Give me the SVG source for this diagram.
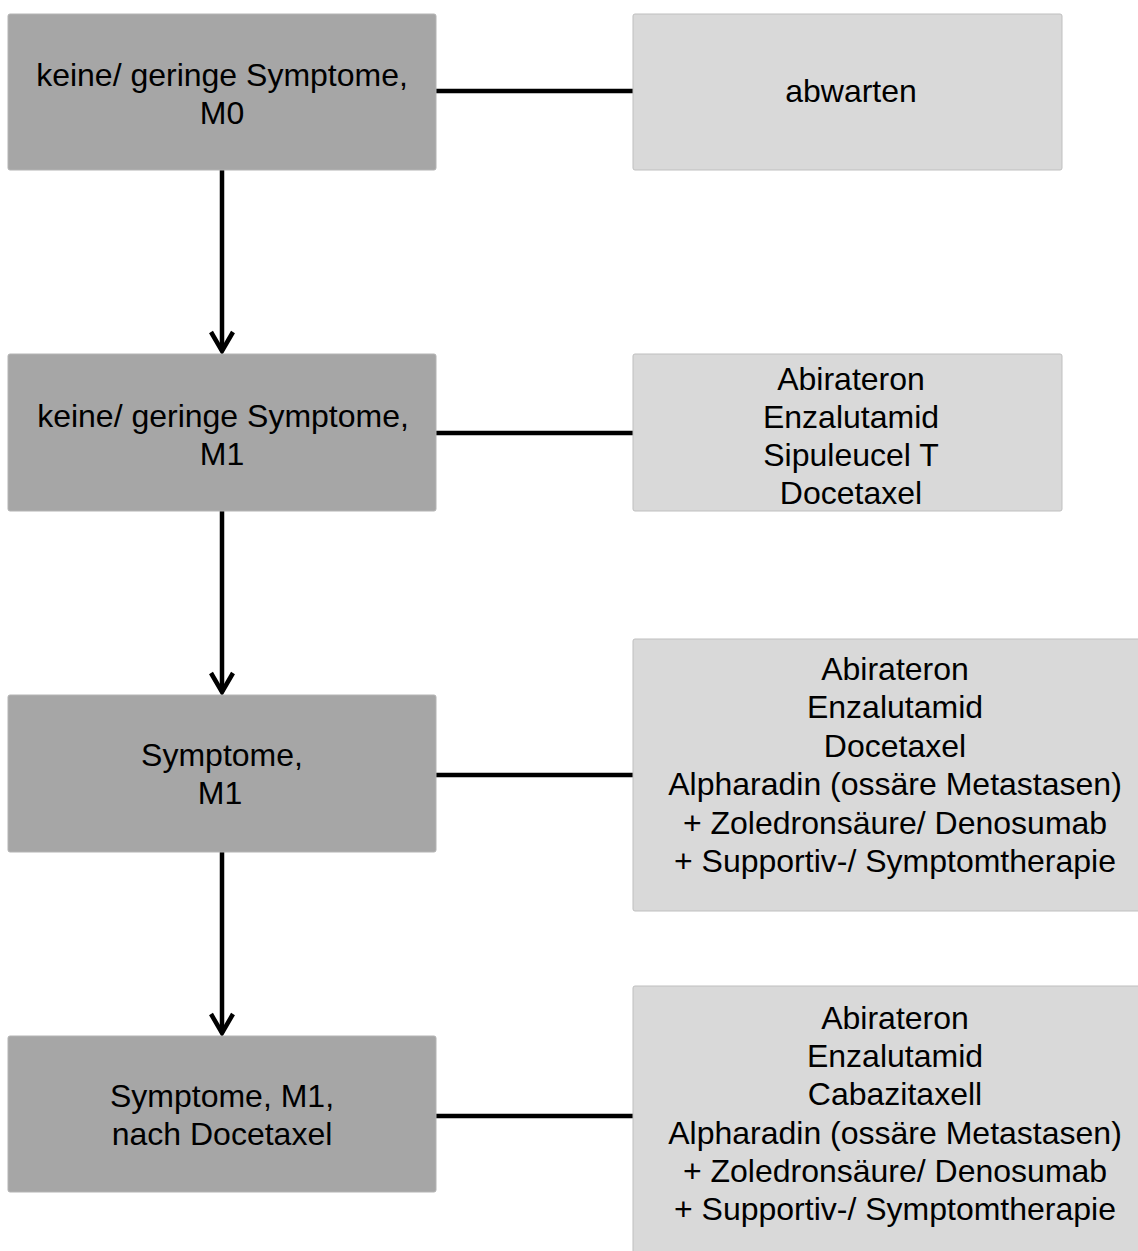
<svg xmlns="http://www.w3.org/2000/svg" width="1138" height="1251" viewBox="0 0 1138 1251">
<defs>
<style>
.l{fill:#a6a6a6;stroke:#b4b4b4;stroke-width:1}
.r{fill:#d9d9d9;stroke:#bfbfbf;stroke-width:1}
text{font-family:"Liberation Sans",Arial,sans-serif;font-size:32px;fill:#000;text-anchor:middle}
.c{stroke:#000;stroke-width:4.5;fill:none}
</style>
<marker id="arr" markerUnits="userSpaceOnUse" viewBox="0 0 30 30" refX="26" refY="15" markerWidth="30" markerHeight="30" orient="auto">
<path d="M7 4 L26 15 L7 26" fill="none" stroke="#000" stroke-width="4.5" stroke-linejoin="miter"/>
</marker>
</defs>
<rect width="1138" height="1251" fill="#fff"/>
<g id="connectors">
<line class="c" x1="436" y1="91" x2="633" y2="91"/>
<line class="c" x1="436" y1="433" x2="633" y2="433"/>
<line class="c" x1="436" y1="775" x2="633" y2="775"/>
<line class="c" x1="436" y1="1116" x2="633" y2="1116"/>
<path class="c" d="M222 170 V351" marker-end="url(#arr)"/>
<path class="c" d="M222 511 V692" marker-end="url(#arr)"/>
<path class="c" d="M222 852 V1033" marker-end="url(#arr)"/>
</g>
<g id="n1"><rect class="l" x="8" y="14" width="428" height="156" rx="2"/><text x="222" y="86">keine/ geringe Symptome,</text><text x="222" y="124">M0</text></g>
<g id="n2"><rect class="l" x="8" y="354" width="428" height="157" rx="2"/><text x="223" y="427">keine/ geringe Symptome,</text><text x="222" y="465">M1</text></g>
<g id="n3"><rect class="l" x="8" y="695" width="428" height="157" rx="2"/><text x="222" y="766">Symptome,</text><text x="220" y="804">M1</text></g>
<g id="n4"><rect class="l" x="8" y="1036" width="428" height="156" rx="2"/><text x="222" y="1107">Symptome, M1,</text><text x="222" y="1145">nach Docetaxel</text></g>
<g id="t1"><rect class="r" x="633" y="14" width="429" height="156" rx="2"/><text x="851" y="102">abwarten</text></g>
<g id="t2"><rect class="r" x="633" y="354" width="429" height="157" rx="2"/>
<text x="851" y="390">Abirateron</text><text x="851" y="428">Enzalutamid</text><text x="851" y="466">Sipuleucel T</text><text x="851" y="504">Docetaxel</text></g>
<g id="t3"><rect class="r" x="633" y="639" width="530" height="272" rx="2"/>
<text x="895" y="680">Abirateron</text><text x="895" y="718">Enzalutamid</text><text x="895" y="756.5">Docetaxel</text><text x="895" y="795">Alpharadin (ossäre Metastasen)</text><text x="895" y="833.5">+ Zoledronsäure/ Denosumab</text><text x="895" y="872">+ Supportiv-/ Symptomtherapie</text></g>
<g id="t4"><rect class="r" x="633" y="986" width="530" height="290" rx="2"/>
<text x="895" y="1028.5">Abirateron</text><text x="895" y="1067">Enzalutamid</text><text x="895" y="1105">Cabazitaxell</text><text x="895" y="1143.5">Alpharadin (ossäre Metastasen)</text><text x="895" y="1182">+ Zoledronsäure/ Denosumab</text><text x="895" y="1220">+ Supportiv-/ Symptomtherapie</text></g>
</svg>
